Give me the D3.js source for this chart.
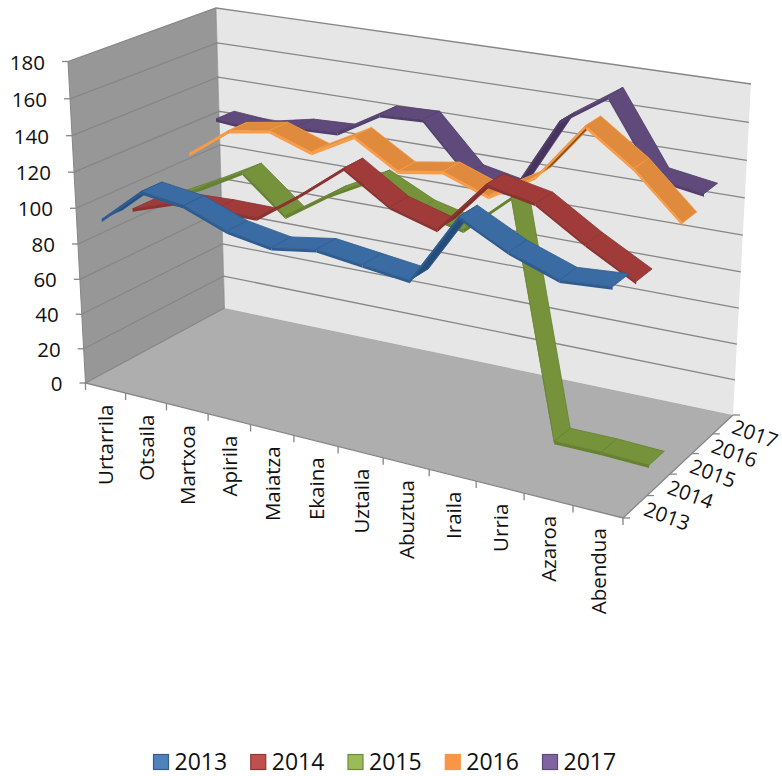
<!DOCTYPE html>
<html><head><meta charset="utf-8">
<style>html,body{margin:0;padding:0;background:#fff}svg{display:block}text{font-family:"Open Sans",sans-serif;fill:#111}</style>
<script src="https://cdn.jsdelivr.net/npm/d3@7/dist/d3.min.js"></script></head><body>
<svg id="c" width="782" height="776"></svg>
<script>
const months=["Urtarrila","Otsaila","Martxoa","Apirila","Maiatza","Ekaina","Uztaila","Abuztua","Iraila","Urria","Azaroa","Abendua"];
const years=["2013","2014","2015","2016","2017"];
const v2013=[95,115,112,103,99,103,100,97,135,122,113,115];
const v2014=[93,101,102,102,119,138,122,115,143,138,122,108];
const v2015=[90,102,115,95,111,124,112,106,128,1,1,0];
const v2016=[110,127,131,123,136,121,125,116,131,162,144,120];
const v2017=[123,121,126,127,141,142,116,111,153,170,131,127];
const valueTicks=[0,20,40,60,80,100,120,140,160,180];
const seriesValues=[v2013,v2014,v2015,v2016,v2017];
const topColors=["#3A6BA3","#A03B39","#76933C","#DF8A3C","#604A7B"];
const underColors=["#264D7A","#7E2C2A","#5E7830","#8A5520","#46345E"];
const edgeColors=["#2F5C90","#8C3331","#66812F","#F89C48","#533F6C"];
const legendFill=["#4F81BD","#C0504D","#9BBB59","#F79646","#8064A2"];
const legendStroke=["#385D8A","#8C3836","#71893F","#F79646","#5C4776"];

function quadMap(p){
  const [p0,p1,p2,p3]=p;
  const dx1=p1[0]-p2[0],dx2=p3[0]-p2[0],sx=p0[0]-p1[0]+p2[0]-p3[0];
  const dy1=p1[1]-p2[1],dy2=p3[1]-p2[1],sy=p0[1]-p1[1]+p2[1]-p3[1];
  const d=dx1*dy2-dx2*dy1;
  const g=(sx*dy2-dx2*sy)/d,h=(dx1*sy-sx*dy1)/d;
  const a=p1[0]-p0[0]+g*p1[0],b=p3[0]-p0[0]+h*p3[0],c=p0[0];
  const e=p1[1]-p0[1]+g*p1[1],f=p3[1]-p0[1]+h*p3[1],i=p0[1];
  return (u,w)=>{const q=g*u+h*w+1;return [(a*u+b*w+c)/q,(e*u+f*w+i)/q];};
}
const floorMap=quadMap([[85.5,383],[623,518],[733,415],[224.5,308]]);
const topMap=quadMap([[68,61.5],[643,163],[751,84],[216,8]]);
const warp=(t,r)=>t/(t+r*(1-t));
const yScale=d3.scaleLinear().domain([0,180]).range([0,1]);
const uBand=d3.scaleBand().domain(months).range([0,1]);
const uScale=m=>uBand(m)+uBand.bandwidth()/2;
const wBand=d3.scaleBand().domain(years).range([0,1]);
const halfRibbon=0.068;
function P(u,w,val){const uu=warp(u,.932),f=floorMap(uu,w),t=topMap(uu,w),k=warp(yScale(val),1.05);return [f[0]+(t[0]-f[0])*k,f[1]+(t[1]-f[1])*k];}
const path=d3.line();
const poly=pts=>path(pts)+"Z";
const svg=d3.select("#c");
const wallG=svg.append("g");
wallG.append("path").attr("d",poly([P(0,0,0),P(0,1,0),P(0,1,180),P(0,0,180)])).attr("fill","#979797");
wallG.append("path").attr("d",poly([P(0,1,0),P(1,1,0),P(1,1,180),P(0,1,180)])).attr("fill","#E6E6E6");
wallG.append("path").attr("d",poly([P(0,0,0),P(1,0,0),P(1,1,0),P(0,1,0)])).attr("fill","#AEAEAE");
const grid="#868686";
valueTicks.forEach(t=>{
  if(t>0){
  wallG.append("path").attr("d",path([P(0,0,t),P(0,1,t),P(1,1,t)])).attr("fill","none").attr("stroke",grid).attr("stroke-width",1.3);}
  const a=P(0,0,t);
  wallG.append("path").attr("d",path([[a[0]-6,a[1]],a])).attr("stroke",grid).attr("stroke-width",1.3);
  svg.append("text").attr("x",a[0]-23).attr("y",a[1]+8).attr("text-anchor","end").attr("font-size",20.5).text(t);
});
wallG.append("path").attr("d",path([P(0,1,0),P(0,0,0),P(1,0,0),P(1,1,0)])).attr("fill","none").attr("stroke",grid).attr("stroke-width",1.3);
wallG.append("path").attr("d",path([P(0,0,0),P(0,0,180)])).attr("stroke",grid).attr("stroke-width",1);
wallG.append("path").attr("d",path([P(0,1,0),P(0,1,180)])).attr("stroke",grid).attr("stroke-width",.7);
d3.range(13).forEach(i=>{const a=P(i/12,0,0);
  wallG.append("path").attr("d",path([a,[a[0],a[1]+7]])).attr("stroke",grid).attr("stroke-width",1.3);});
months.forEach(m=>{const a=P(uScale(m),0,0);
  svg.append("text").attr("transform",`translate(${a[0]+8},${a[1]+16.5}) rotate(-90)`).attr("text-anchor","end").attr("font-size",20.5).text(m);});
d3.range(6).forEach(i=>{const a=P(1,i/5,0);
  wallG.append("path").attr("d",path([a,[a[0]+7,a[1]]])).attr("stroke",grid).attr("stroke-width",1.3);});
years.forEach(y=>{const a=P(1,wBand(y)+wBand.bandwidth()/2,0);
  svg.append("text").attr("transform",`translate(${a[0]+32},${a[1]+9.5}) rotate(20)`).attr("text-anchor","middle").attr("dy","0.36em").attr("font-size",20.5).text(y);});
const thick=3;
d3.range(4,-1,-1).forEach(si=>{
  const vals=seriesValues[si],g=svg.append("g");
  const wc=wBand(years[si])+wBand.bandwidth()/2,w0=wc-halfRibbon,w1=wc+halfRibbon;
  for(let i=0;i<11;i++){
    const u0=uScale(months[i]),u1=uScale(months[i+1]),a=vals[i],b=vals[i+1];
    const q=[P(u0,w0,a),P(u1,w0,b),P(u1,w1,b),P(u0,w1,a)];
    const area=d3.polygonArea(q);
    g.append("path").attr("d",poly(q)).attr("fill",area>0?topColors[si]:underColors[si]).attr("stroke",edgeColors[si]).attr("stroke-width",.8).attr("stroke-linejoin","round");
    g.append("path").attr("d",poly([q[0],q[1],[q[1][0],q[1][1]+thick],[q[0][0],q[0][1]+thick]])).attr("fill",edgeColors[si]);
  }
});
const legendX=d3.scalePoint().domain(years).range([153,542]);
years.forEach((y,i)=>{const x=legendX(y);
  svg.append("rect").attr("x",x+.5).attr("y",754.5).attr("width",15).attr("height",15).attr("fill",legendFill[i]).attr("stroke",legendStroke[i]).attr("stroke-width",1.2);
  svg.append("text").attr("x",x+21.5).attr("y",770).attr("font-size",23).text(y);});
</script></body></html>
